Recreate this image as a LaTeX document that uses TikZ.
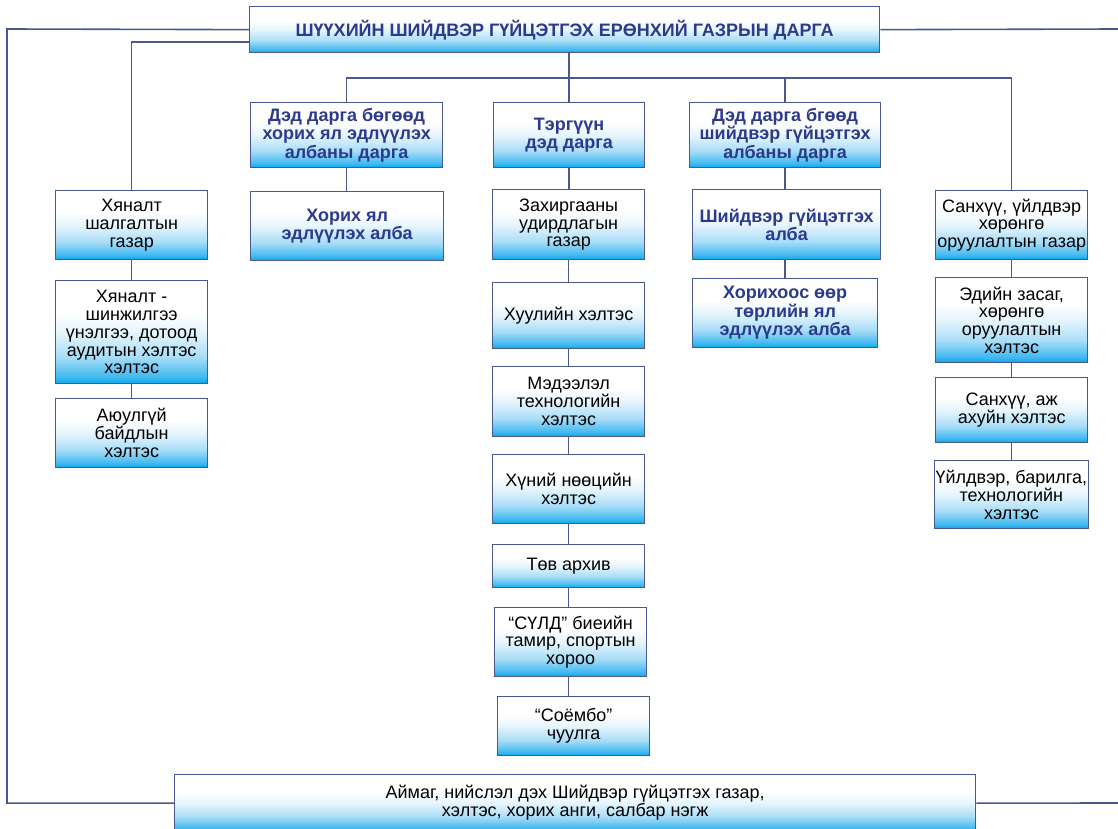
\documentclass[tikz,border=0pt]{standalone}
\usepackage{fontspec}
\setmainfont{Liberation Sans}
\definecolor{lineblue}{HTML}{4A5890}
\definecolor{bordblue}{HTML}{4A5890}
\definecolor{textblue}{HTML}{2B3A8C}
\definecolor{scA}{HTML}{08A3EA}
\definecolor{scB}{HTML}{3DB8F0}
\definecolor{scC}{HTML}{A9DDF7}
\definecolor{scD}{HTML}{E6F5FD}
\pgfdeclareverticalshading{boxsh}{100bp}{color(0bp)=(scA); color(25bp)=(scA); color(28bp)=(scB); color(38bp)=(scC); color(50bp)=(scD); color(60bp)=(white); color(100bp)=(white)}
\tikzset{
  bx/.style={draw=bordblue, line width=1.3pt, shading=boxsh, align=center, inner sep=1pt, anchor=north west,
    font=\fontsize{18}{17.8}\selectfont, text=black},
  bb/.style={bx, font=\bfseries\fontsize{18}{18.5}\selectfont, text=textblue},
  conn/.style={draw=lineblue, line width=1.6pt}
}
\begin{document}
\begin{tikzpicture}[x=1pt,y=-1pt]
\fill[white] (0,0) rectangle (1118,829);
\useasboundingbox (0,0) rectangle (1118,829);
% nodes
\node[bb, minimum width=630pt, minimum height=46pt, font=\bfseries\fontsize{18}{18}\selectfont] (top) at (249,6) {ШҮҮХИЙН ШИЙДВЭР ГҮЙЦЭТГЭХ ЕРӨНХИЙ ГАЗРЫН ДАРГА};
\node[bb, minimum width=192pt, minimum height=65pt] (d1) at (250,102) {Дэд дарга бөгөөд\\хорих ял эдлүүлэх\\албаны дарга};
\node[bb, minimum width=151pt, minimum height=65pt] (d2) at (493,102) {Тэргүүн\\дэд дарга};
\node[bb, minimum width=191pt, minimum height=65pt] (d3) at (689,102) {Дэд дарга бгөөд\\шийдвэр гүйцэтгэх\\албаны дарга};
\node[bx, minimum width=152pt, minimum height=69pt] (h1) at (55,190) {Хяналт\\шалгалтын\\газар};
\node[bx, minimum width=152pt, minimum height=103pt] (h2) at (55,280) {Хяналт -\\шинжилгээ\\үнэлгээ, дотоод\\аудитын хэлтэс\\хэлтэс};
\node[bx, minimum width=152pt, minimum height=69pt] (h3) at (55,398) {Аюулгүй\\байдлын\\хэлтэс};
\node[bb, minimum width=193pt, minimum height=69pt] (k1) at (250,191) {Хорих ял\\эдлүүлэх алба};
\node[bx, minimum width=152pt, minimum height=70pt] (z1) at (492,189) {Захиргааны\\удирдлагын\\газар};
\node[bx, minimum width=152pt, minimum height=66pt] (z2) at (492,282) {Хуулийн хэлтэс};
\node[bx, minimum width=152pt, minimum height=70pt] (z3) at (492,366) {Мэдээлэл\\технологийн\\хэлтэс};
\node[bx, minimum width=152pt, minimum height=69pt] (z4) at (492,454) {Хүний нөөцийн\\хэлтэс};
\node[bx, minimum width=152pt, minimum height=43pt] (z5) at (492,544) {Төв архив};
\node[bx, minimum width=152pt, minimum height=69pt] (z6) at (494,607) {“СҮЛД” биеийн\\тамир, спортын\\хороо};
\node[bx, minimum width=152pt, minimum height=59pt] (z7) at (497,696) {“Соёмбо”\\чуулга};
\node[bb, minimum width=188pt, minimum height=70pt] (s1) at (692,189) {Шийдвэр гүйцэтгэх\\алба};
\node[bb, minimum width=185pt, minimum height=69pt] (s2) at (692,278) {Хорихоос өөр\\төрлийн ял\\эдлүүлэх алба};
\node[bx, minimum width=152pt, minimum height=69pt] (f1) at (935,190) {Санхүү, үйлдвэр\\хөрөнгө\\оруулалтын газар};
\node[bx, minimum width=152pt, minimum height=85pt] (f2) at (935,277) {Эдийн засаг,\\хөрөнгө\\оруулалтын\\хэлтэс};
\node[bx, minimum width=152pt, minimum height=65pt] (f3) at (935,377) {Санхүү, аж\\ахуйн хэлтэс};
\node[bx, minimum width=153pt, minimum height=68pt] (f4) at (934,460) {Үйлдвэр, барилга,\\технологийн\\хэлтэс};
\node[bx, minimum width=801pt, minimum height=57pt, font=\fontsize{18}{18}\selectfont] (bot) at (174,774) {Аймаг, нийслэл дэх Шийдвэр гүйцэтгэх газар,\\хэлтэс, хорих анги, салбар нэгж};
% coordinates
\coordinate (lc) at (7,29);
\coordinate (l2) at (0,42);
\coordinate (bus) at (0,78);
\coordinate (re1) at (1118,29);
\coordinate (re2) at (1118,803);
% connectors
\draw[conn] (top.west) -- (lc) |- (bot.west);
\draw[conn] (top.west |- l2) -| (h1.north);
\draw[conn] (h1.south) -- (h2.north);
\draw[conn] (h2.south) -- (h3.north);
\draw[conn] (d2.north |- top.south) -- (d2.north);
\draw[conn] (d1.north) -- (d1.north |- bus) -| (f1.north);
\draw[conn] (d3.north) -- (d3.north |- bus);
\draw[conn] (d1.south) -- (d1.south |- k1.north);
\draw[conn] (d2.south) -- (d2.south |- z1.north);
\draw[conn] (z1.south) -- (z1.south |- z2.north);
\draw[conn] (z2.south) -- (z2.south |- z3.north);
\draw[conn] (z3.south) -- (z3.south |- z4.north);
\draw[conn] (z4.south) -- (z4.south |- z5.north);
\draw[conn] (z5.south) -- (z5.south |- z6.north);
\draw[conn] (z6.south -| z5.south) -- (z5.south |- z7.north);
\draw[conn] (d3.south) -- (d3.south |- s1.north);
\draw[conn] (s1.south -| d3.south) -- (d3.south |- s2.north);
\draw[conn] (f1.south) -- (f1.south |- f2.north);
\draw[conn] (f2.south) -- (f2.south |- f3.north);
\draw[conn] (f3.south -| f2.south) -- (f2.south |- f4.north);
\draw[conn] (top.east) -- (re1);
\draw[conn] (bot.east) -- (re2);
\end{tikzpicture}
\end{document}
